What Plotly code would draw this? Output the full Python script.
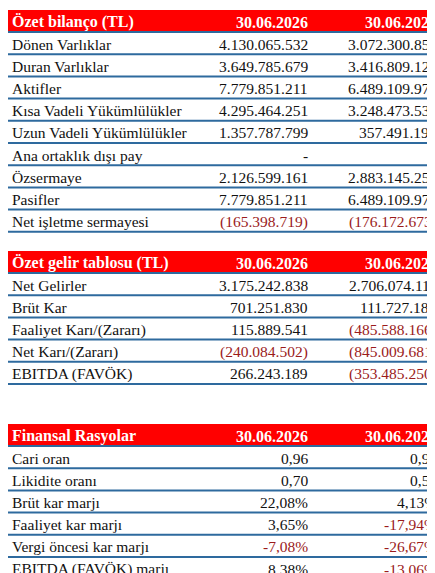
import plotly.graph_objects as go

headers = ["Özet bilanço (TL)", "Özet gelir tablosu (TL)", "Finansal Rasyolar"]
periods = ["30.06.2026", "30.06.2025"]

t1_labels = ["Dönen Varlıklar", "Duran Varlıklar", "Aktifler", "Kısa Vadeli Yükümlülükler",
             "Uzun Vadeli Yükümlülükler", "Ana ortaklık dışı pay", "Özsermaye", "Pasifler",
             "Net işletme sermayesi"]
t1_2026 = ["4.130.065.532", "3.649.785.679", "7.779.851.211", "4.295.464.251", "1.357.787.799",
           "-", "2.126.599.161", "7.779.851.211", "(165.398.719)"]
t1_2025 = ["3.072.300.858", "3.416.809.121", "6.489.109.979", "3.248.473.531", "357.491.197",
           "-", "2.883.145.252", "6.489.109.979", "(176.172.673)"]

t2_labels = ["Net Gelirler", "Brüt Kar", "Faaliyet Karı/(Zararı)", "Net Karı/(Zararı)", "EBITDA (FAVÖK)"]
t2_2026 = ["3.175.242.838", "701.251.830", "115.889.541", "(240.084.502)", "266.243.189"]
t2_2025 = ["2.706.074.111", "111.727.185", "(485.588.166)", "(845.009.681)", "(353.485.250)"]

t3_labels = ["Cari oran", "Likidite oranı", "Brüt kar marjı", "Faaliyet kar marjı",
             "Vergi öncesi kar marjı", "EBITDA (FAVÖK) marjı"]
t3_2026 = ["0,96", "0,70", "22,08%", "3,65%", "-7,08%", "8,38%"]
t3_2025 = ["0,95", "0,56", "4,13%", "-17,94%", "-26,67%", "-13,06%"]

tables = [(t1_labels, t1_2026, t1_2025), (t2_labels, t2_2026, t2_2025), (t3_labels, t3_2026, t3_2025)]
tops = [2, 243, 416]
HH, RH = 22, 22.2
W, H = 435, 573
XL, XC2, XC3 = 2, 302, 431
RED, NEG, BLK, LINE = "#FF0000", "#9B1B1B", "#111111", "#2E6A9E"
FONT = "Liberation Serif"

fig = go.Figure()
shapes, ann = [], []

def txt(x, y, s, anchor, size, color, bold=False):
    ann.append(dict(x=x, y=y, xref="x", yref="y", text=f"<b>{s}</b>" if bold else s,
                    xanchor=anchor, yanchor="middle", showarrow=False,
                    font=dict(family=FONT, size=size, color=color)))

for (labels, c1, c2), top, head in zip(tables, tops, headers):
    shapes.append(dict(type="rect", xref="x", yref="y", x0=0, x1=W, y0=top, y1=top + HH,
                       fillcolor=RED, line_width=0, layer="below"))
    hy = top + HH / 2 + 1
    txt(XL, hy, head, "left", 16, "white", True)
    txt(XC2, hy, periods[0], "right", 16, "white", True)
    txt(XC3, hy, periods[1], "right", 16, "white", True)
    for i, lab in enumerate(labels):
        y = top + HH + RH * (i + 0.5) + 1
        txt(XL, y, lab, "left", 15.5, BLK)
        for xc, v in ((XC2, c1[i]), (XC3, c2[i])):
            neg = v.startswith("(") or (v.startswith("-") and len(v) > 1)
            txt(xc, y, v, "right", 15.5, NEG if neg else BLK)
    for i in range(len(labels) + 1):
        yl = top + HH + RH * i
        shapes.append(dict(type="line", xref="x", yref="y", x0=0, x1=W, y0=yl, y1=yl,
                           line=dict(color=LINE, width=2)))

# invisible trace so axes exist
fig.add_trace(go.Scatter(x=[0, W], y=[0, H], mode="markers", marker=dict(opacity=0),
                         hoverinfo="skip"))
fig.update_layout(width=W, height=H, margin=dict(l=0, r=0, t=0, b=0), showlegend=False,
                  paper_bgcolor="white", plot_bgcolor="white", shapes=shapes, annotations=ann,
                  xaxis=dict(range=[0, W], visible=False, fixedrange=True),
                  yaxis=dict(range=[H, 0], visible=False, fixedrange=True))
fig.write_html("out.html", config={"displayModeBar": False})
